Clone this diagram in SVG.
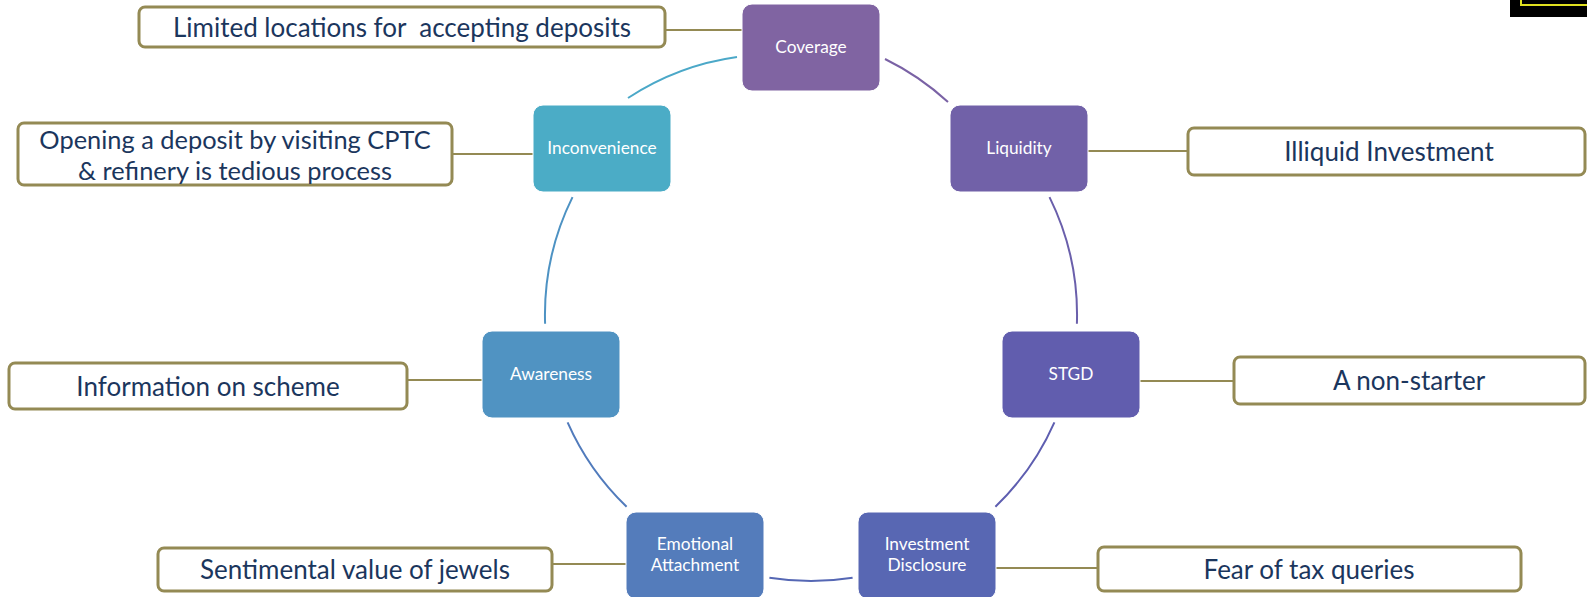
<svg xmlns="http://www.w3.org/2000/svg" width="1587" height="597" viewBox="0 0 1587 597">
  <style>
    .node rect { stroke: #ffffff; stroke-width: 1; }
    .node text { font-family: Lato, "Open Sans", sans-serif; font-size: 17.3px; fill: #ffffff; text-anchor: middle; }
    .note rect { fill: #ffffff; stroke: #948A54; stroke-width: 3; }
    .note text { font-family: Lato, "Open Sans", sans-serif; font-size: 26px; fill: #1B365D; text-anchor: middle; white-space: pre; }
    .tie { stroke: #948A54; stroke-width: 2; fill: none; }
    .arc { fill: none; stroke-width: 2; }
  </style>

  <rect x="0" y="0" width="1587" height="597" fill="#ffffff"/>

  <!-- corner badge -->
  <g id="badge">
    <rect x="1510" y="0" width="77" height="17" fill="#000000"/>
    <path d="M1521,0 V5 H1587" fill="none" stroke="#E0E020" stroke-width="2"/>
  </g>

  <!-- connectors: cycle arcs (circle c 811,315  r 266) and straight ties to the notes -->
  <g id="connectors">
    <path class="arc" stroke="#7A62A5" d="M885,59 A266,266 0 0 1 948,102"/>
    <path class="arc" stroke="#6A5FAB" d="M1049.5,197.1 A266,266 0 0 1 1076.9,323.8"/>
    <path class="arc" stroke="#5E5EB0" d="M1054.4,422.3 A266,266 0 0 1 995.4,506.7"/>
    <path class="arc" stroke="#5567B4" d="M852.6,577.7 A266,266 0 0 1 769.4,577.7"/>
    <path class="arc" stroke="#517BBC" d="M626.6,506.7 A266,266 0 0 1 567.6,422.3"/>
    <path class="arc" stroke="#4D92C3" d="M545.1,323.8 A266,266 0 0 1 572.5,197.1"/>
    <path class="arc" stroke="#4BA8C8" d="M628,98 A266,266 0 0 1 737,57"/>

    <line class="tie" x1="665" y1="30" x2="742" y2="30"/>
    <line class="tie" x1="1088" y1="151" x2="1188" y2="151"/>
    <line class="tie" x1="452" y1="154" x2="533" y2="154"/>
    <line class="tie" x1="1140" y1="381" x2="1234" y2="381"/>
    <line class="tie" x1="407" y1="380" x2="482" y2="380"/>
    <line class="tie" x1="996" y1="568" x2="1098" y2="568"/>
    <line class="tie" x1="552" y1="564" x2="626" y2="564"/>
  </g>

  <!-- cycle nodes -->
  <g id="coverage" class="node">
    <rect x="742" y="4" width="138" height="87" rx="10" fill="#8064A2"/>
    <text x="811" y="53">Coverage</text>
  </g>
  <g id="liquidity" class="node">
    <rect x="950" y="105" width="138" height="87" rx="10" fill="#7161A8"/>
    <text x="1019" y="154">Liquidity</text>
  </g>
  <g id="stgd" class="node">
    <rect x="1002" y="331" width="138" height="87" rx="10" fill="#615DAE"/>
    <text x="1071" y="380">STGD</text>
  </g>
  <g id="investment-disclosure" class="node">
    <rect x="858" y="512" width="138" height="87" rx="10" fill="#5867B3"/>
    <text x="927" y="550">Investment</text>
    <text x="927" y="571">Disclosure</text>
  </g>
  <g id="emotional-attachment" class="node">
    <rect x="626" y="512" width="138" height="87" rx="10" fill="#547CBB"/>
    <text x="695" y="550">Emotional</text>
    <text x="695" y="571">Attachment</text>
  </g>
  <g id="awareness" class="node">
    <rect x="482" y="331" width="138" height="87" rx="10" fill="#5093C2"/>
    <text x="551" y="380">Awareness</text>
  </g>
  <g id="inconvenience" class="node">
    <rect x="533" y="105" width="138" height="87" rx="10" fill="#4BACC6"/>
    <text x="602" y="154">Inconvenience</text>
  </g>

  <!-- notes -->
  <g id="note-coverage" class="note">
    <rect x="139" y="7" width="526" height="40" rx="6"/>
    <text x="402" y="37">Limited locations for  accepting deposits</text>
  </g>
  <g id="note-inconvenience" class="note">
    <rect x="18" y="123" width="434" height="62" rx="6"/>
    <text x="235" y="149" style="font-size:25.4px">Opening a deposit by visiting CPTC</text>
    <text x="235" y="180" style="font-size:25.4px">&amp; refinery is tedious process</text>
  </g>
  <g id="note-liquidity" class="note">
    <rect x="1188" y="128" width="397" height="47" rx="6"/>
    <text x="1389" y="161">Illiquid Investment</text>
  </g>
  <g id="note-awareness" class="note">
    <rect x="9" y="363" width="398" height="46" rx="6"/>
    <text x="208" y="396">Information on scheme</text>
  </g>
  <g id="note-stgd" class="note">
    <rect x="1234" y="357" width="351" height="47" rx="6"/>
    <text x="1409" y="390">A non-starter</text>
  </g>
  <g id="note-emotional" class="note">
    <rect x="158" y="548" width="394" height="43" rx="6"/>
    <text x="355" y="579">Sentimental value of jewels</text>
  </g>
  <g id="note-investment" class="note">
    <rect x="1098" y="547" width="423" height="44" rx="6"/>
    <text x="1309" y="579">Fear of tax queries</text>
  </g>
</svg>
